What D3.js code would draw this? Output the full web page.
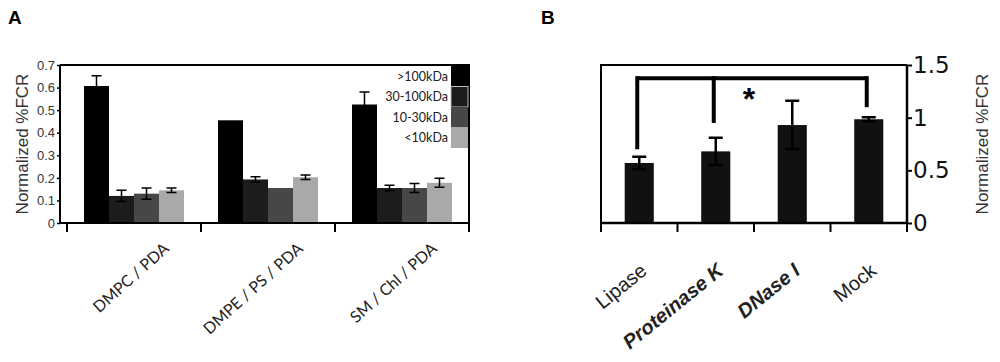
<!DOCTYPE html>
<html>
<head>
<meta charset="utf-8">
<style>
    body { margin: 0; background: white; }
    svg { display: block; }
    .tickA text { font-family: 'Liberation Sans', Arial, sans-serif; font-size: 13px; fill: #333; }
    .tickB text { font-family: 'DejaVu Sans', sans-serif; font-size: 23px; fill: #111; }
</style>
</head>
<body>
<svg width="1000" height="362"></svg>

<script src="https://d3js.org/d3.v7.min.js"></script>
<script>

    // ---- panel A data ----
    let groupsA = ["DMPC / PDA", "DMPE / PS / PDA", "SM / Chl / PDA"]
    let seriesA = [">100kDa", "30-100kDa", "10-30kDa", "<10kDa"]
    let colorsA = ["#000000", "#1c1c1c", "#474747", "#a9a9a9"]
    // one row per group, one value per series
    let valuesA = [
        [0.607, 0.12, 0.13, 0.145],
        [0.455, 0.193, 0.155, 0.203],
        [0.525, 0.155, 0.155, 0.178]
    ]
    let errorsA = [
        [0.045, 0.025, 0.025, 0.01],
        [0, 0.012, 0, 0.01],
        [0.055, 0.012, 0.02, 0.02]
    ]
    let ticksA = [0, 0.1, 0.2, 0.3, 0.4, 0.5, 0.6, 0.7]

    // ---- panel B data ----
    let catsB = ["Lipase", "Proteinase K", "DNase I", "Mock"]
    let boldB = [false, true, true, false]
    let valuesB = [0.57, 0.68, 0.93, 0.985]
    let errorsB = [0.06, 0.13, 0.23, 0.02]
    let ticksB = [0, 0.5, 1, 1.5]
    let bracketLevel = 1.375
    let bracketLegs = [["Lipase", 0.70], ["Proteinase K", 0.95], ["Mock", 1.10]]

    let svg = d3.select("svg")

    // panel letters
    svg.append("text").attr("x", 8).attr("y", 24).text("A")
        .style("font-family", "Liberation Sans, Arial").style("font-weight", "bold").style("font-size", "19px")
    svg.append("text").attr("x", 541).attr("y", 24).text("B")
        .style("font-family", "Liberation Sans, Arial").style("font-weight", "bold").style("font-size", "19px")

    // ================= panel A =================
    let xA = d3.scaleBand().domain(groupsA).range([67, 469])
    let xSub = d3.scaleBand().domain(seriesA).range([0, xA.bandwidth()]).paddingOuter(0.68)
    let yA = d3.scaleLinear().domain([0, 0.7]).range([223, 65])

    let gA = svg.append("g")

    // frame (top + right)
    gA.append("path")
        .attr("d", `M60,${yA(0.7)}H${xA.range()[1]}V${yA(0)}`)
        .style("fill", "none").style("stroke", "black").style("stroke-width", 2)

    let groupG = gA.selectAll(".grp")
        .data(groupsA)
        .join("g")
        .attr("class", "grp")
        .attr("transform", d => `translate(${xA(d)},0)`)

    groupG.selectAll("rect")
        .data((d, i) => seriesA.map((s, j) => ({ s: s, v: valuesA[i][j], e: errorsA[i][j], c: colorsA[j] })))
        .join("rect")
        .attr("x", d => xSub(d.s))
        .attr("width", xSub.bandwidth())
        .attr("y", d => yA(d.v))
        .attr("height", d => yA(0) - yA(d.v))
        .style("fill", d => d.c)

    let errA = groupG.selectAll(".err")
        .data((d, i) => seriesA.map((s, j) => ({ s: s, v: valuesA[i][j], e: errorsA[i][j] })).filter(d => d.e > 0))
        .join("g")
        .attr("class", "err")
        .attr("transform", d => `translate(${xSub(d.s) + xSub.bandwidth() / 2},0)`)
    errA.append("path")
        .attr("d", d => `M0,${yA(d.v + d.e)}V${yA(d.v - d.e)}M-5,${yA(d.v + d.e)}H5M-5,${yA(d.v - d.e)}H5`)
        .style("fill", "none").style("stroke", "black").style("stroke-width", 1.5)

    // legend inside the frame, right side
    let legend = gA.append("g")
    let rowH = 20.5
    seriesA.forEach((s, j) => {
        legend.append("rect")
            .attr("x", 451).attr("width", 17)
            .attr("y", yA(0.7) + 1 + j * rowH).attr("height", rowH)
            .style("fill", colorsA[j])
            .style("stroke", j == 1 ? "#bbbbbb" : "none")
            .style("stroke-width", 1)
        legend.append("text")
            .attr("x", 448).attr("y", yA(0.7) + 1 + j * rowH + rowH / 2)
            .attr("dy", "0.35em")
            .attr("text-anchor", "end")
            .style("font-family", "Lato, 'Open Sans', sans-serif").style("font-size", "12.5px").style("fill", "#222")
            .text(s)
    })

    // y axis
    let yAxisA = gA.append("g")
        .attr("class", "tickA")
        .attr("transform", "translate(60,0)")
        .call(d3.axisLeft(yA).tickValues(ticksA).tickSize(3).tickPadding(2).tickFormat(d => d))
    yAxisA.select(".domain").style("stroke-width", 2).attr("d", `M0,${yA(0.7)}V${yA(0)}`)
    yAxisA.selectAll(".tick line").style("stroke-width", 1.5)

    // x axis, ticks at band edges
    let edgesA = groupsA.map(d => xA(d)).concat([xA.range()[1]])
    gA.append("line")
        .attr("x1", 60).attr("x2", xA.range()[1]).attr("y1", yA(0)).attr("y2", yA(0))
        .style("stroke", "black").style("stroke-width", 2)
    gA.selectAll(".xtick")
        .data(edgesA)
        .join("line")
        .attr("x1", d => d).attr("x2", d => d)
        .attr("y1", yA(0)).attr("y2", yA(0) + 9)
        .style("stroke", "black").style("stroke-width", 2)

    gA.selectAll(".xlab")
        .data(groupsA)
        .join("text")
        .attr("text-anchor", "end")
        .attr("transform", d => `translate(${xA(d) + xA.bandwidth() / 2 + 36},250) rotate(-42)`)
        .style("font-family", "Lato, 'Open Sans', sans-serif").style("font-size", "16px").style("fill", "#222")
        .text(d => d)

    gA.append("text")
        .attr("transform", `translate(28,${(yA(0) + yA(0.7)) / 2}) rotate(-90)`)
        .attr("text-anchor", "middle")
        .style("font-family", "Liberation Sans, Arial").style("font-size", "17px").style("fill", "#333")
        .text("Normalized %FCR")

    // ================= panel B =================
    let xB = d3.scaleBand().domain(catsB).range([601, 907])
    let yB = d3.scaleLinear().domain([0, 1.5]).range([223, 65])
    let barW = xB.bandwidth() * 0.38
    let mid = d => xB(d) + xB.bandwidth() / 2

    let gB = svg.append("g")

    gB.append("path")
        .attr("d", `M${xB.range()[1]},${yB(1.5)}H${xB.range()[0]}V${yB(0)}`)
        .style("fill", "none").style("stroke", "black").style("stroke-width", 2)

    gB.selectAll(".barB")
        .data(catsB)
        .join("rect")
        .attr("x", d => mid(d) - barW / 2)
        .attr("width", barW)
        .attr("y", (d, i) => yB(valuesB[i]))
        .attr("height", (d, i) => yB(0) - yB(valuesB[i]))
        .style("fill", "#111")

    gB.selectAll(".errB")
        .data(catsB)
        .join("path")
        .attr("d", (d, i) => {
            let hi = yB(valuesB[i] + errorsB[i]), lo = yB(valuesB[i] - errorsB[i]), c = mid(d)
            return `M${c},${hi}V${lo}M${c - 7},${hi}H${c + 7}M${c - 7},${lo}H${c + 7}`
        })
        .style("fill", "none").style("stroke", "black").style("stroke-width", 2.5)

    // significance bracket
    let legX = d => mid(d) - 2
    gB.append("path")
        .attr("d", `M${legX(bracketLegs[0][0])},${yB(bracketLevel)}H${legX(bracketLegs[2][0])}`)
        .style("stroke", "black").style("stroke-width", 4).style("fill", "none")
    gB.selectAll(".leg")
        .data(bracketLegs)
        .join("line")
        .attr("x1", d => legX(d[0])).attr("x2", d => legX(d[0]))
        .attr("y1", yB(bracketLevel) - 2).attr("y2", d => yB(d[1]))
        .style("stroke", "black").style("stroke-width", 4)
    gB.append("text")
        .attr("x", (mid("Proteinase K") + mid("DNase I")) / 2 - 5)
        .attr("y", yB(bracketLevel) + 32)
        .attr("text-anchor", "middle")
        .style("font-family", "Liberation Sans, Arial").style("font-weight", "bold").style("font-size", "32px")
        .text("*")

    // right axis
    let yAxisB = gB.append("g")
        .attr("class", "tickB")
        .attr("transform", `translate(${xB.range()[1]},0)`)
        .call(d3.axisRight(yB).tickValues(ticksB).tickSize(5).tickPadding(1).tickFormat(d => d))
    yAxisB.select(".domain").style("stroke-width", 2.5).attr("d", `M0,${yB(1.5)}V${yB(0)}`)
    yAxisB.selectAll(".tick line").style("stroke-width", 2)

    // bottom axis
    let edgesB = catsB.map(d => xB(d)).concat([xB.range()[1]])
    gB.append("line")
        .attr("x1", xB.range()[0]).attr("x2", xB.range()[1]).attr("y1", yB(0)).attr("y2", yB(0))
        .style("stroke", "black").style("stroke-width", 2.5)
    gB.selectAll(".xtickB")
        .data(edgesB)
        .join("line")
        .attr("x1", d => d).attr("x2", d => d)
        .attr("y1", yB(0)).attr("y2", yB(0) + 9)
        .style("stroke", "black").style("stroke-width", 2)

    gB.selectAll(".xlabB")
        .data(catsB)
        .join("text")
        .attr("text-anchor", "end")
        .attr("transform", d => `translate(${mid(d) + 9},273) rotate(-39)`)
        .style("font-family", "Liberation Sans, Arial").style("font-size", "20px").style("fill", "#222")
        .style("font-weight", (d, i) => boldB[i] ? "bold" : "normal")
        .style("font-style", (d, i) => boldB[i] ? "italic" : "normal")
        .text(d => d)

    gB.append("text")
        .attr("transform", `translate(988,${(yB(0) + yB(1.5)) / 2}) rotate(-90)`)
        .attr("text-anchor", "middle")
        .style("font-family", "Liberation Sans, Arial").style("font-size", "17px").style("fill", "#333")
        .text("Normalized %FCR")

</script>
</html>
